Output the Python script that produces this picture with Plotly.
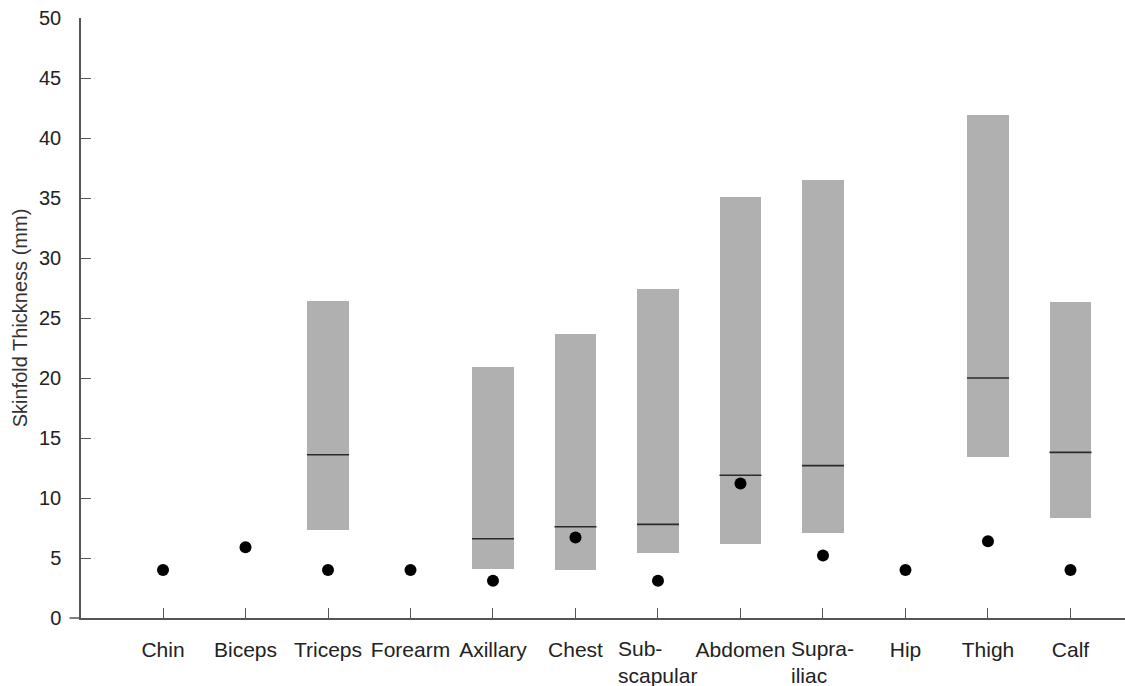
import plotly.graph_objects as go

categories = ["Chin", "Biceps", "Triceps", "Forearm", "Axillary", "Chest",
              "Sub-<br>scapular", "Abdomen", "Supra-<br>iliac", "Hip", "Thigh", "Calf"]
range_low = [None, None, 7.3, None, 4.1, 4.0, 5.4, 6.2, 7.1, None, 13.4, 8.3]
range_high = [None, None, 26.4, None, 20.9, 23.7, 27.4, 35.1, 36.5, None, 41.9, 26.3]
median = [None, None, 13.6, None, 6.6, 7.6, 7.8, 11.9, 12.7, None, 20.0, 13.8]
patient = [4.0, 5.9, 4.0, 4.0, 3.1, 6.7, 3.1, 11.2, 5.2, 4.0, 6.4, 4.0]
y_ticks = [0, 5, 10, 15, 20, 25, 30, 35, 40, 45, 50]

heights = [(h - l) if h is not None else None for l, h in zip(range_low, range_high)]

fig = go.Figure()
fig.add_trace(go.Bar(x=categories, y=heights, base=range_low, width=0.5,
                     marker=dict(color="#b0b0b0", line=dict(width=0)),
                     showlegend=False, hoverinfo="skip"))
fig.add_trace(go.Scatter(x=categories, y=median, mode="markers",
                         marker=dict(symbol="line-ew", size=30,
                                     line=dict(width=1.6, color="#2a2a2a")),
                         showlegend=False, hoverinfo="skip"))
fig.add_trace(go.Scatter(x=categories, y=patient, mode="markers",
                         marker=dict(symbol="circle", size=12, color="black",
                                     line=dict(width=0)),
                         showlegend=False, hoverinfo="skip"))

# single-line category names as tick labels, two-line names as left-aligned text blocks
ticktext = ["" if "<br>" in c else c for c in categories]
for c in categories:
    if "<br>" in c:
        fig.add_annotation(x=c, xref="x", y=0, yref="paper", yanchor="top",
                           yshift=-18, text=c, align="left", showarrow=False,
                           borderpad=0,
                           font=dict(family="Liberation Sans, Arial, sans-serif",
                                     size=21, color="#222"))

font = dict(family="Liberation Sans, Arial, sans-serif", size=16, color="#222")
fig.update_layout(
    width=1125, height=686,
    margin=dict(l=81, r=0, t=18, b=68),
    plot_bgcolor="white", paper_bgcolor="white",
    font=font,
    bargap=0,
)
fig.update_xaxes(type="category", range=[-0.994, 11.661],
                 tickvals=categories, ticktext=ticktext,
                 showline=True, linecolor="#555", linewidth=1.5,
                 ticks="inside", ticklen=10, tickcolor="#555", tickwidth=1.2,
                 showgrid=False, zeroline=False, ticklabelstandoff=12,
                 automargin=False,
                 tickfont=dict(size=21, color="#222"))
fig.update_yaxes(range=[0, 50], tickvals=y_ticks,
                 showline=True, linecolor="#555", linewidth=1.5,
                 ticks="inside", ticklen=10, tickcolor="#555", tickwidth=1.2,
                 showgrid=False, zeroline=False, ticklabelstandoff=14,
                 automargin=False,
                 tickfont=dict(size=20, color="#222"),
                 title=dict(text="Skinfold Thickness (mm)", font=dict(size=20, color="#333"),
                            standoff=6))
# x-axis baseline extends a little to the left of the y-axis, as in the reference
fig.add_shape(type="line", xref="paper", yref="paper", x0=-0.011, x1=0, y0=0, y1=0,
              line=dict(color="#555", width=1.5))

fig.write_html("out.html", config={"displayModeBar": False},
               post_script="document.body.style.margin='0';")
